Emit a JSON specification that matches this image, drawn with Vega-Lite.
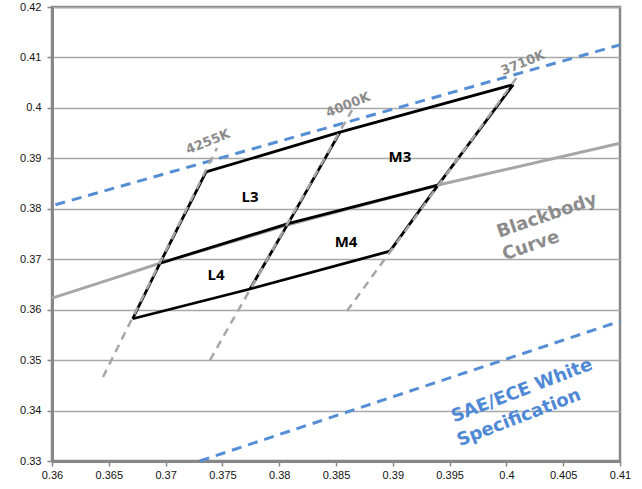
{
  "$schema": "https://vega.github.io/schema/vega-lite/v6.json",
  "width": 568,
  "height": 454,
  "autosize": {"type": "none"},
  "padding": {"left": 52, "top": 7, "right": 22, "bottom": 28},
  "background": "white",
  "config": {
    "view": {"stroke": "#878787", "strokeWidth": 2.5},
    "axis": {"labelFont": "Liberation Sans", "labelFontSize": 11, "labelColor": "#111111", "title": null}
  },
  "datasets": {
    "lines": [
      {"g": "bb", "s": "bb", "o": 1, "x": 0.36, "y": 0.3623},
      {"g": "bb", "s": "bb", "o": 2, "x": 0.365, "y": 0.3659},
      {"g": "bb", "s": "bb", "o": 3, "x": 0.3695, "y": 0.3692},
      {"g": "bb", "s": "bb", "o": 4, "x": 0.3808, "y": 0.3768},
      {"g": "bb", "s": "bb", "o": 5, "x": 0.394, "y": 0.3847},
      {"g": "bb", "s": "bb", "o": 6, "x": 0.41, "y": 0.393},
      {"g": "blue", "s": "bu", "o": 1, "x": 0.3603, "y": 0.3808},
      {"g": "blue", "s": "bu", "o": 2, "x": 0.41, "y": 0.4125},
      {"g": "blue", "s": "bl", "o": 1, "x": 0.373, "y": 0.33},
      {"g": "blue", "s": "bl", "o": 2, "x": 0.41, "y": 0.3577},
      {"g": "quad", "s": "qt", "o": 1, "x": 0.37356, "y": 0.3873},
      {"g": "quad", "s": "qt", "o": 2, "x": 0.38535, "y": 0.3952},
      {"g": "quad", "s": "qt", "o": 3, "x": 0.4006, "y": 0.4046},
      {"g": "quad", "s": "qm", "o": 1, "x": 0.3695, "y": 0.3692},
      {"g": "quad", "s": "qm", "o": 2, "x": 0.38078, "y": 0.37705},
      {"g": "quad", "s": "qm", "o": 3, "x": 0.39398, "y": 0.3847},
      {"g": "quad", "s": "qb", "o": 1, "x": 0.3671, "y": 0.3582},
      {"g": "quad", "s": "qb", "o": 2, "x": 0.37743, "y": 0.3641},
      {"g": "quad", "s": "qb", "o": 3, "x": 0.38975, "y": 0.3716},
      {"g": "quad", "s": "ql", "o": 1, "x": 0.3671, "y": 0.3582},
      {"g": "quad", "s": "ql", "o": 2, "x": 0.3695, "y": 0.3692},
      {"g": "quad", "s": "ql", "o": 3, "x": 0.37356, "y": 0.3873},
      {"g": "quad", "s": "qc", "o": 1, "x": 0.37743, "y": 0.3641},
      {"g": "quad", "s": "qc", "o": 2, "x": 0.38078, "y": 0.37705},
      {"g": "quad", "s": "qc", "o": 3, "x": 0.38535, "y": 0.3952},
      {"g": "quad", "s": "qr", "o": 1, "x": 0.38975, "y": 0.3716},
      {"g": "quad", "s": "qr", "o": 2, "x": 0.39398, "y": 0.3847},
      {"g": "quad", "s": "qr", "o": 3, "x": 0.4006, "y": 0.4046},
      {"g": "iso", "s": "i1", "o": 1, "x": 0.36449, "y": 0.34665},
      {"g": "iso", "s": "i1", "o": 2, "x": 0.37452, "y": 0.39205},
      {"g": "iso", "s": "i2", "o": 1, "x": 0.37391, "y": 0.35002},
      {"g": "iso", "s": "i2", "o": 2, "x": 0.38641, "y": 0.39958},
      {"g": "iso", "s": "i3", "o": 1, "x": 0.38597, "y": 0.35973},
      {"g": "iso", "s": "i3", "o": 2, "x": 0.4012, "y": 0.4069}
    ],
    "labels": [
      {"g": "k", "t": "4255K", "x": 0.37373, "y": 0.39324},
      {"g": "k", "t": "4000K", "x": 0.38606, "y": 0.40057},
      {"g": "k", "t": "3710K", "x": 0.40146, "y": 0.4089},
      {"g": "bbt", "t": "Blackbody", "x": 0.40357, "y": 0.37856},
      {"g": "bbt", "t": "Curve", "x": 0.40217, "y": 0.37262},
      {"g": "sae", "t": "SAE/ECE White", "x": 0.40137, "y": 0.34387},
      {"g": "sae", "t": "Specification", "x": 0.40111, "y": 0.33852},
      {"g": "bin", "t": "L3", "x": 0.37743, "y": 0.38233},
      {"g": "bin", "t": "L4", "x": 0.37444, "y": 0.36687},
      {"g": "bin", "t": "M3", "x": 0.39063, "y": 0.39026},
      {"g": "bin", "t": "M4", "x": 0.38588, "y": 0.37341}
    ]
  },
  "encoding": {
    "x": {
      "field": "x", "type": "quantitative",
      "scale": {"domain": [0.36, 0.41], "nice": false, "zero": false},
      "axis": {
        "values": [0.36, 0.365, 0.37, 0.375, 0.38, 0.385, 0.39, 0.395, 0.4, 0.405, 0.41],
        "format": "~g", "grid": false, "domainColor": "#878787", "domainWidth": 3,
        "tickColor": "#878787", "tickSize": 5, "tickWidth": 1.5, "labelPadding": 3,
        "labelFlush": false
      }
    },
    "y": {
      "field": "y", "type": "quantitative",
      "scale": {"domain": [0.33, 0.42], "nice": false, "zero": false},
      "axis": {
        "values": [0.33, 0.34, 0.35, 0.36, 0.37, 0.38, 0.39, 0.4, 0.41, 0.42],
        "format": "~g", "grid": true, "gridColor": "#A8A8A8", "gridWidth": 1.5,
        "domainColor": "#878787", "domainWidth": 3, "tickColor": "#878787",
        "tickSize": 5, "tickWidth": 1.5, "labelPadding": 6, "labelFlush": false
      }
    }
  },
  "layer": [
    {
      "data": {"name": "lines"},
      "transform": [{"filter": "datum.g == 'bb'"}],
      "mark": {"type": "line", "color": "#A6A6A6", "strokeWidth": 3},
      "encoding": {"detail": {"field": "s"}, "order": {"field": "o"}}
    },
    {
      "data": {"name": "lines"},
      "transform": [{"filter": "datum.g == 'blue'"}],
      "mark": {"type": "line", "color": "#558ED5", "strokeWidth": 3, "strokeDash": [10, 7]},
      "encoding": {"detail": {"field": "s"}, "order": {"field": "o"}}
    },
    {
      "data": {"name": "lines"},
      "transform": [{"filter": "datum.g == 'quad'"}],
      "mark": {"type": "line", "color": "#000000", "strokeWidth": 2.8},
      "encoding": {"detail": {"field": "s"}, "order": {"field": "o"}}
    },
    {
      "data": {"name": "lines"},
      "transform": [{"filter": "datum.g == 'iso'"}],
      "mark": {"type": "line", "color": "#A6A6A6", "strokeWidth": 2.5, "strokeDash": [8, 6]},
      "encoding": {"detail": {"field": "s"}, "order": {"field": "o"}}
    },
    {
      "data": {"name": "labels"},
      "transform": [{"filter": "datum.g == 'k'"}],
      "mark": {"type": "text", "font": "DejaVu Sans", "fontSize": 13, "fontWeight": "bold", "color": "#8C8C8C", "angle": 338, "align": "center", "baseline": "middle"},
      "encoding": {"text": {"field": "t"}}
    },
    {
      "data": {"name": "labels"},
      "transform": [{"filter": "datum.g == 'bbt'"}],
      "mark": {"type": "text", "font": "DejaVu Sans", "fontSize": 18, "fontWeight": "bold", "color": "#8C8C8C", "angle": 341, "align": "center", "baseline": "middle"},
      "encoding": {"text": {"field": "t"}}
    },
    {
      "data": {"name": "labels"},
      "transform": [{"filter": "datum.g == 'sae'"}],
      "mark": {"type": "text", "font": "DejaVu Sans", "fontSize": 18, "fontWeight": "bold", "color": "#4F89D6", "angle": 339, "align": "center", "baseline": "middle"},
      "encoding": {"text": {"field": "t"}}
    },
    {
      "data": {"name": "labels"},
      "transform": [{"filter": "datum.g == 'bin'"}],
      "mark": {"type": "text", "font": "Open Sans", "fontSize": 15, "fontWeight": "bold", "color": "#000000", "align": "center", "baseline": "middle"},
      "encoding": {"text": {"field": "t"}}
    }
  ]
}
